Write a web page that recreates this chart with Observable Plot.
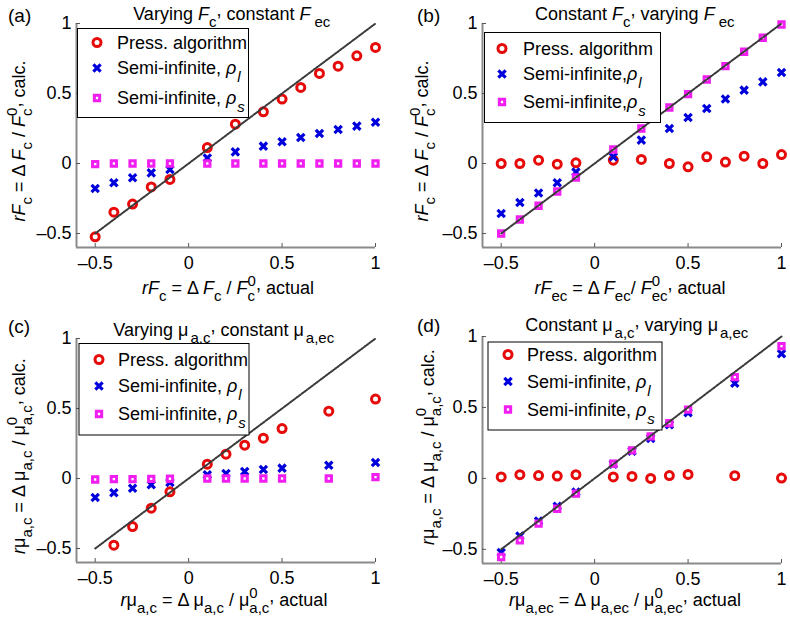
<!DOCTYPE html>
<html><head><meta charset="utf-8">
<script src="https://cdn.jsdelivr.net/npm/d3@7"></script>
<script src="https://cdn.jsdelivr.net/npm/@observablehq/plot@0.6"></script>
<style>
body{margin:0;background:#fff;}
#wrap{position:relative;width:790px;height:620px;overflow:hidden;font-family:"Liberation Sans",Arial,Helvetica,sans-serif;}
.panel{position:absolute;width:395px;height:310px;}
.panel svg{overflow:visible;}
</style></head><body><div id="wrap"></div>
<script>
// ---- shared axis values ----
const axisDomain = [-0.6, 1];
const xTicks = [-0.5, 0, 0.5, 1];
const yTicks = [-0.5, 0, 0.5, 1];
const tickLabels = ["\u20130.5", "0", "0.5", "1"];
const idealLine = [-0.5, 1];
const seriesNames = ["Press. algorithm", "Semi-infinite", "Semi-infinite"];

// ---- panel (a): varying F_c, constant F_ec ----
const xA = [-0.5, -0.4, -0.3, -0.2, -0.1, 0.1, 0.25, 0.4, 0.5, 0.6, 0.7, 0.8, 0.9, 1.0];
const aPress = [-0.524, -0.348, -0.29, -0.167, -0.114, 0.114, 0.281, 0.369, 0.46, 0.543, 0.643, 0.695, 0.769, 0.829];
const aRhoL = [-0.179, -0.138, -0.102, -0.067, -0.043, 0.04, 0.083, 0.124, 0.155, 0.186, 0.214, 0.243, 0.267, 0.295];
const aRhoS = [-0.004, 0, 0, 0, 0, 0, 0, 0, 0, 0, 0, 0, 0, 0];

// ---- panel (b): constant F_c, varying F_ec ----
const xB = [-0.5, -0.4, -0.3, -0.2, -0.1, 0.1, 0.25, 0.4, 0.5, 0.6, 0.7, 0.8, 0.9, 1.0];
const bPress = [0, 0, 0.024, -0.005, 0.005, 0.024, 0.029, 0, -0.024, 0.048, 0.01, 0.052, 0, 0.064];
const bRhoL = [-0.357, -0.279, -0.21, -0.138, -0.06, 0.048, 0.167, 0.25, 0.329, 0.393, 0.46, 0.524, 0.583, 0.65];
const bRhoS = [-0.5, -0.4, -0.302, -0.2, -0.1, 0.1, 0.25, 0.4, 0.495, 0.6, 0.695, 0.798, 0.898, 0.993];

// ---- panel (c): varying mu_a,c, constant mu_a,ec ----
const xC = [-0.5, -0.4, -0.3, -0.2, -0.1, 0.1, 0.2, 0.3, 0.4, 0.5, 0.75, 1.0];
const cPress = [null, -0.476, -0.343, -0.212, -0.095, 0.102, 0.174, 0.238, 0.288, 0.357, 0.481, 0.567];
const cRhoL = [-0.136, -0.102, -0.069, -0.045, -0.029, 0.026, 0.036, 0.05, 0.064, 0.074, 0.095, 0.114];
const cRhoS = [-0.007, -0.005, -0.005, -0.003, -0.002, 0, 0, 0, 0, 0, 0, 0.01];

// ---- panel (d): constant mu_a,c, varying mu_a,ec ----
const xD = [-0.5, -0.4, -0.3, -0.2, -0.1, 0.1, 0.2, 0.3, 0.4, 0.5, 0.75, 1.0];
const dPress = [0.01, 0.026, 0.02, 0.016, 0.026, 0.01, 0.014, 0, 0.02, 0.028, 0.019, 0.002];
const dRhoL = [-0.523, -0.406, -0.3, -0.197, -0.096, 0.099, 0.192, 0.282, 0.378, 0.462, 0.671, 0.878];
const dRhoS = [-0.554, -0.437, -0.319, -0.214, -0.108, 0.103, 0.197, 0.296, 0.39, 0.484, 0.714, 0.932];

// ---- styles ----
const RED = "#e60a0a", BLUE = "#0000dc", MAG = "#f01ef0";
const FONT = '"Liberation Sans",Arial,Helvetica,sans-serif';
const mk = {
  press: {symbol: "circle", r: 4, stroke: RED, strokeWidth: 3, fill: "none"},
  rhoL: {symbol: "times", r: 3.4, stroke: BLUE, strokeWidth: 3.2, fill: "none"},
  rhoS: {symbol: "square", r: 3, stroke: MAG, strokeWidth: 3, fill: "#fff"}
};

// rich-text segment helpers
const N = t => ({t}), I = t => ({t, i: true}), S = (t, dx = 0) => ({t, k: "sub", dx}),
  SI = (t, dx = 0) => ({t, k: "sub", i: true, dx}), P = t => ({t, k: "sup"}), R = t => ({t, k: "raise"});
const MU = "\u03bc", RHO = "\u03c1", DEL = "\u0394";

const panels = [
  {ox: 0, oy: 0, m: [23, 20, 63, 76], x: xA, press: aPress, rhoL: aRhoL, rhoS: aRhoS,
   tag: ["(a)", 8, 22], title: [[N("Varying "), I("F"), S("c"), R(","), N(" constant "), I("F"), S("ec", 4)], 232, 20],
   xl: [[I("r"), I("F"), S("c"), N(" = " + DEL + " "), I("F"), S("c"), N(" / "), I("F"), S("c"), P("0"), R(","), N(" actual")], 228, 294],
   yl: [[I("r"), I("F"), S("c"), N(" = " + DEL + " "), I("F"), S("c"), N(" / "), I("F"), S("c"), P("0"), R(","), N(" calc.")], 25, 141],
   lg: {x0: 77.5, y0: 28.5, x1: 248.5, y1: 117.5, mx: 97, tx: 117, rows: [48.5, 74, 104], sep: ", "}},
  {ox: 395, oy: 0, m: [23, 9, 63, 87], x: xB, press: bPress, rhoL: bRhoL, rhoS: bRhoS,
   tag: ["(b)", 417, 22], title: [[N("Constant "), I("F"), S("c"), R(","), N(" varying "), I("F"), S("ec", 4)], 635, 20],
   xl: [[I("r"), I("F"), S("ec"), N(" = " + DEL + " "), I("F"), S("ec"), N("/ "), I("F"), S("ec"), P("0"), R(","), N(" actual")], 630, 294],
   yl: [[I("r"), I("F"), S("c"), N(" = " + DEL + " "), I("F"), S("c"), N(" / "), I("F"), S("c"), P("0"), R(","), N(" calc.")], 428, 141],
   lg: {x0: 484.5, y0: 32.5, x1: 660.5, y1: 122.5, mx: 502, tx: 523, rows: [54.5, 80, 108], sep: ","}},
  {ox: 0, oy: 310, m: [28, 20, 58, 76], x: xC, press: cPress, rhoL: cRhoL, rhoS: cRhoS,
   tag: ["(c)", 8, 333], title: [[N("Varying "), N(MU), S("a,c", 2), R(","), N(" constant "), N(MU), S("a,ec", 2)], 224, 336],
   xl: [[I("r"), N(MU), S("a,c"), N(" = " + DEL + " "), N(MU), S("a,c"), N(" / "), N(MU), S("a,c"), P("0"), R(","), N(" actual")], 224, 606],
   yl: [[I("r"), N(MU), S("a,c"), N(" = " + DEL + " "), N(MU), S("a,c"), N(" / "), N(MU), S("a,c"), P("0"), R(","), N(" calc.")], 25, 456],
   lg: {x0: 79, y0: 343.5, x1: 249, y1: 435, mx: 99, tx: 118, rows: [365.5, 392, 420], sep: ", "}},
  {ox: 395, oy: 310, m: [26, 9, 57, 87], x: xD, press: dPress, rhoL: dRhoL, rhoS: dRhoS,
   tag: ["(d)", 417, 332], title: [[N("Constant "), N(MU), S("a,c", 2), R(","), N(" varying "), N(MU), S("a,ec", 2)], 637, 331],
   xl: [[I("r"), N(MU), S("a,ec"), N(" = " + DEL + " "), N(MU), S("a,ec"), N(" / "), N(MU), S("a,ec"), P("0"), R(","), N(" actual")], 625, 606],
   yl: [[I("r"), N(MU), S("a,c"), N(" = " + DEL + " "), N(MU), S("a,c"), N(" / "), N(MU), S("a,c"), P("0"), R(","), N(" calc.")], 434, 447],
   lg: {x0: 488, y0: 342, x1: 662, y1: 430, mx: 508, tx: 527, rows: [360.5, 387.5, 415.5], sep: ", "}}
];

function rich(parent, segs, x, y, {anchor = "middle", rotate = 0, size = 18, subSize = 15, subShift = 7, supShift = 8} = {}) {
  const g = parent.append("g").attr("transform", `translate(${x},${y}) rotate(${rotate})`);
  const text = g.append("text").attr("font-size", size).attr("fill", "#000").attr("text-anchor", "start")
    .attr("font-family", FONT).attr("style", "white-space:pre");
  let cur = 0, lastW = 0, carry = 0;
  for (const s of segs) {
    let target = 0, fs = size, dx = carry;
    carry = 0;
    if (s.k === "sub") { target = subShift; fs = subSize; dx += s.dx || 0; }
    else if (s.k === "sup") { target = -supShift; fs = subSize; dx -= lastW; }
    else if (s.k === "raise") { target = -4; }
    const ts = text.append("tspan").attr("dy", target - cur).attr("font-size", fs).text(s.t);
    if (dx) ts.attr("dx", dx);
    if (s.i) ts.attr("font-style", "italic");
    cur = target;
    const w = ts.node().getComputedTextLength();
    if (s.k === "sup") carry = Math.max(0, lastW - w);
    lastW = w;
  }
  if (anchor === "middle") {
    const b = text.node().getBBox();
    text.attr("x", -(b.x + b.width / 2));
  }
  return g;
}

const wrap = d3.select("#wrap");
const fmt = d => tickLabels[xTicks.indexOf(d)];
const fmtY = d => tickLabels[yTicks.indexOf(d)];

for (const p of panels) {
  const rows = key => p.x.map((x, i) => ({x, y: p[key][i]})).filter(d => d.y != null);
  const [mt, mr, mb, ml] = p.m;
  const chart = Plot.plot({
    width: 395, height: 310,
    marginTop: mt, marginRight: mr, marginBottom: mb, marginLeft: ml,
    x: {domain: axisDomain},
    y: {domain: axisDomain},
    style: {fontFamily: FONT, fontSize: "18px", color: "#000", background: "transparent", overflow: "visible"},
    marks: [
      Plot.ruleX([axisDomain[0]], {stroke: "#8a8a8a", strokeWidth: 2}),
      Plot.ruleY([axisDomain[0]], {stroke: "#8a8a8a", strokeWidth: 2}),
      Plot.axisX(xTicks, {anchor: "bottom", tickSize: -4, tickPadding: 13, tickFormat: fmt, label: null, stroke: "#555", fill: "#000", fontSize: 18}),
      Plot.axisY(yTicks, {anchor: "left", tickSize: -4, tickPadding: 9, tickFormat: fmtY, label: null, stroke: "#555", fill: "#000", fontSize: 18}),
      Plot.dot(rows("press"), {x: "x", y: "y", ...mk.press}),
      Plot.dot(rows("rhoL"), {x: "x", y: "y", ...mk.rhoL}),
      Plot.dot(rows("rhoS"), {x: "x", y: "y", ...mk.rhoS}),
      Plot.line(idealLine, {x: d => d, y: d => d, stroke: "#3a3a3a", strokeWidth: 2, strokeDasharray: "1.5 1.5"})
    ]
  });
  const div = wrap.append("div").attr("class", "panel").style("left", p.ox + "px").style("top", p.oy + "px");
  div.node().appendChild(chart);
  const svg = d3.select(chart);
  const lx = v => v - p.ox, ly = v => v - p.oy;

  // panel tag
  svg.append("text").attr("x", lx(p.tag[1])).attr("y", ly(p.tag[2])).attr("font-size", 19).attr("text-anchor", "start")
    .attr("font-family", FONT).attr("fill", "#000").text(p.tag[0]);
  // title, x label, y label
  rich(svg, p.title[0], lx(p.title[1]), ly(p.title[2]));
  rich(svg, p.xl[0], lx(p.xl[1]), ly(p.xl[2]));
  rich(svg, p.yl[0], lx(p.yl[1]), ly(p.yl[2]), {rotate: -90});

  // legend
  const L = p.lg;
  const g = svg.append("g");
  g.append("rect").attr("x", lx(L.x0)).attr("y", ly(L.y0)).attr("width", L.x1 - L.x0).attr("height", L.y1 - L.y0)
    .attr("fill", "#fff").attr("stroke", "#000").attr("stroke-width", 1);
  const keys = ["press", "rhoL", "rhoS"];
  const subs = [null, "l", "s"];
  keys.forEach((k, i) => {
    const s = mk[k];
    const cx = lx(L.mx), cy = ly(L.rows[i] - 6);
    if (s.symbol === "circle") {
      g.append("circle").attr("cx", cx).attr("cy", cy).attr("r", s.r)
        .attr("fill", s.fill).attr("stroke", s.stroke).attr("stroke-width", s.strokeWidth);
    } else {
      const sym = s.symbol === "times" ? d3.symbolTimes : d3.symbolSquare;
      g.append("path").attr("transform", `translate(${cx},${cy})`)
        .attr("d", d3.symbol(sym, s.r * s.r * Math.PI)())
        .attr("fill", s.fill).attr("stroke", s.stroke).attr("stroke-width", s.strokeWidth);
    }
    const segs = i === 0 ? [N(seriesNames[0])]
      : [N(seriesNames[i] + L.sep), I(RHO), SI(subs[i], 1)];
    rich(g, segs, lx(L.tx), ly(L.rows[i]), {anchor: "start", subShift: 8});
  });
}
</script>
</body></html>
